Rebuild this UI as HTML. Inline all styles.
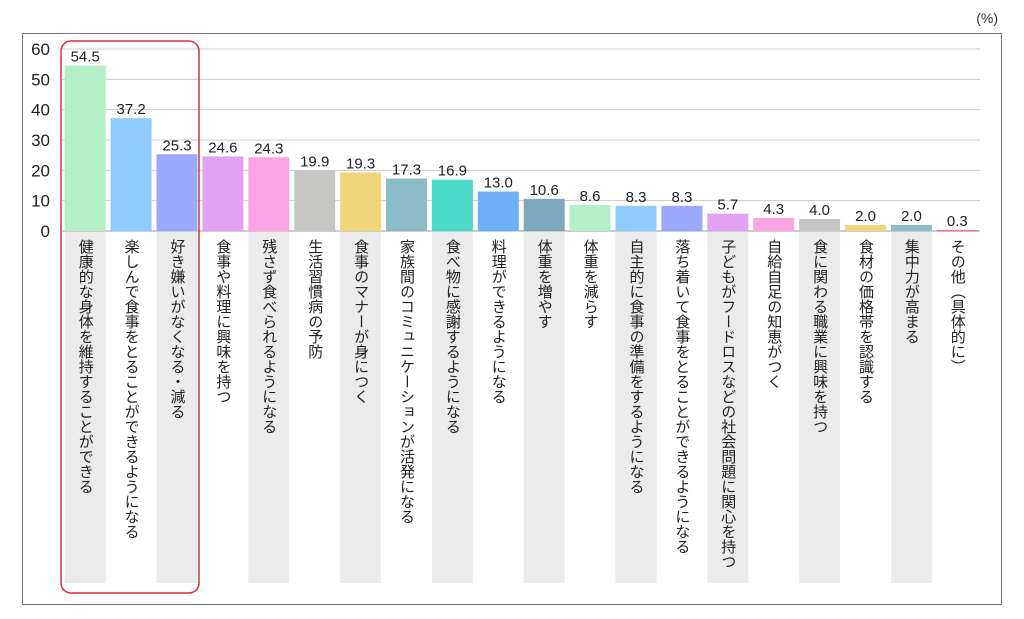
<!DOCTYPE html>
<html><head><meta charset="utf-8"><style>
body{margin:0;width:1024px;height:619px;background:#fff;overflow:hidden;font-family:"Liberation Sans","Noto Sans CJK JP",sans-serif;}
#c{position:absolute;left:0;top:0}
</style></head><body>
<svg id="c" width="1024" height="619"></svg>
<script>
const categories=["健康的な身体を維持することができる","楽しんで食事をとることができるようになる","好き嫌いがなくなる・減る","食事や料理に興味を持つ","残さず食べられるようになる","生活習慣病の予防","食事のマナーが身につく","家族間のコミュニケーションが活発になる","食べ物に感謝するようになる","料理ができるようになる","体重を増やす","体重を減らす","自主的に食事の準備をするようになる","落ち着いて食事をとることができるようになる","子どもがフードロスなどの社会問題に関心を持つ","自給自足の知恵がつく","食に関わる職業に興味を持つ","食材の価格帯を認識する","集中力が高まる","その他（具体的に）"];
const values=[54.5,37.2,25.3,24.6,24.3,19.9,19.3,17.3,16.9,13.0,10.6,8.6,8.3,8.3,5.7,4.3,4.0,2.0,2.0,0.3];
const yTicks=[0,10,20,30,40,50,60];
const colors=["#b3f0c8","#8fcbfd","#9aa8fd","#e3a2f1","#fca5e5","#c6c6c4","#f0d67a","#8cbcc8","#4ddbc9","#6db0f5","#7fa8bc","#b3f0c8","#8fcbfd","#9aa8fd","#e3a2f1","#fca5e5","#c6c6c4","#f0d67a","#8cbcc8","#e07090"];
const NS="http://www.w3.org/2000/svg";
const svg=document.getElementById('c');
const y0=231,yPer=182/60,x0=64.7,pitch=45.9,bw=41;
const y=v=>y0-v*yPer, x=i=>x0+i*pitch;
function mk(t,a,p){const e=document.createElementNS(NS,t);for(const k in a)e.setAttribute(k,a[k]);(p||svg).appendChild(e);return e;}
let e=mk('rect',{x:22.5,y:33.5,width:979,height:571,fill:'none',stroke:'#777','stroke-width':1});

e=mk('text',{x:998,y:23,'text-anchor':'end','font-size':14,fill:'#333'});e.textContent='(%)';

yTicks.forEach(t=>{
  const g=mk('line',{x1:62,x2:980,y1:y(t),y2:y(t),stroke:t===0?'#999':'#ccc','stroke-width':1});
  
  const l=mk('text',{x:50,y:y(t)+6,'text-anchor':'end','font-size':17,fill:'#222'});l.textContent=t;
  
});
categories.forEach((c,i)=>{
  if(i%2===0){const b=mk('rect',{x:x(i),y:y0+1,width:bw,height:351,fill:'#ebebeb'});
    }
  const r=mk('rect',{x:x(i),y:y(values[i]),width:bw,height:Math.max(1.5,values[i]*yPer),fill:colors[i]});
  
  const v=mk('text',{x:x(i)+bw/2,y:y(values[i])-4,'text-anchor':'middle','font-size':15,fill:'#222'});v.textContent=values[i].toFixed(1);
  
  const t=mk('text',{x:x(i)+bw/2,y:y0+8,'font-size':15,fill:'#222','writing-mode':'vertical-rl','style':'writing-mode:vertical-rl;glyph-orientation-vertical:0'});t.textContent=c;
  
});
e=mk('rect',{x:61,y:41,width:138,height:552,rx:10,fill:'none',stroke:'#e0303a','stroke-width':1.5});

</script>
</body></html>
